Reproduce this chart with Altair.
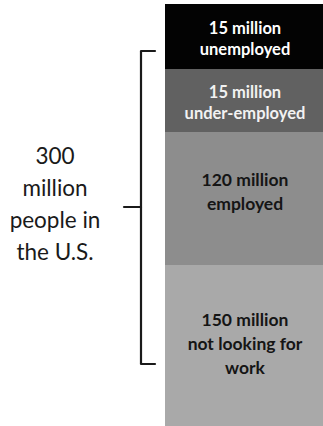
import altair as alt
import pandas as pd

# ---- data ----
categories = ["unemployed", "under-employed", "employed", "not looking for work"]
values = [15, 15, 120, 150]  # millions
labels = [
    "15 million\nunemployed",
    "15 million\nunder-employed",
    "120 million\nemployed",
    "150 million\nnot looking for\nwork",
]
total_label = "300\nmillion\npeople in\nthe U.S."

fill_colors = ["#030303", "#616161", "#8d8d8d", "#a9a9a9"]
text_colors = ["#ffffff", "#f2f2f2", "#151515", "#151515"]

df = pd.DataFrame({"category": categories, "value": values, "label": labels,
                   "fill": fill_colors, "tcolor": text_colors})
df["end"] = df["value"].cumsum()
df["start"] = df["end"] - df["value"]
df["mid"] = (df["start"] + df["end"]) / 2

bounds = [0] + df["end"].tolist()
# diagram is not to scale: piecewise scale places each boundary
yscale = alt.Scale(domain=bounds, range=[4, 69, 132, 265, 430], nice=False, zero=False)

base = alt.Chart(df)

bars = base.mark_rect().encode(
    x=alt.value(165), x2=alt.value(325),
    y=alt.Y("start:Q", scale=yscale, axis=None),
    y2="end:Q",
    color=alt.Color("fill:N", scale=None),
)


def seg_text(cats, size, lh, dy):
    return base.transform_filter(
        alt.FieldOneOfPredicate(field="category", oneOf=cats)
    ).mark_text(
        lineBreak="\n", fontSize=size, fontWeight="bold", font="Lato",
        lineHeight=lh, baseline="middle", align="center", dy=dy,
    ).encode(
        x=alt.value(245),
        y=alt.Y("mid:Q", scale=yscale, axis=None),
        text="label:N",
        color=alt.Color("tcolor:N", scale=None),
    )


t_top = seg_text(categories[:2], 16.5, 20.5, -7.5)
t_emp = seg_text([categories[2]], 17.5, 24, -18)
t_nlf = seg_text([categories[3]], 17.5, 24, -27)

one = pd.DataFrame({"total": [sum(values)]})

total_text = alt.Chart(one).mark_text(
    lineBreak="\n", fontSize=22.5, font="Lato", lineHeight=32,
    baseline="middle", align="center", color="#1a1a1a",
).encode(x=alt.value(55), y=alt.value(157), text=alt.value(total_label))

brace_color = "#1a1a1a"
brace_v = alt.Chart(one).mark_rule(color=brace_color, strokeWidth=2.2).encode(
    x=alt.value(141), y=alt.value(51), y2=alt.value(364))
brace_top = alt.Chart(one).mark_rule(color=brace_color, strokeWidth=2.2, strokeCap="round").encode(
    x=alt.value(141), x2=alt.value(155), y=alt.value(51))
brace_bot = alt.Chart(one).mark_rule(color=brace_color, strokeWidth=2.2, strokeCap="round").encode(
    x=alt.value(141), x2=alt.value(155), y=alt.value(364))
brace_mid = alt.Chart(one).mark_rule(color=brace_color, strokeWidth=2.2, strokeCap="round").encode(
    x=alt.value(124), x2=alt.value(141), y=alt.value(207))

chart = alt.layer(
    bars, t_top, t_emp, t_nlf, total_text,
    brace_v, brace_top, brace_bot, brace_mid,
).properties(
    width=323, height=426, padding=0, autosize=alt.AutoSizeParams(type="none"),
    background="white",
).configure_view(stroke=None)

chart.save("out.html", embed_options={"renderer": "svg", "actions": False})
